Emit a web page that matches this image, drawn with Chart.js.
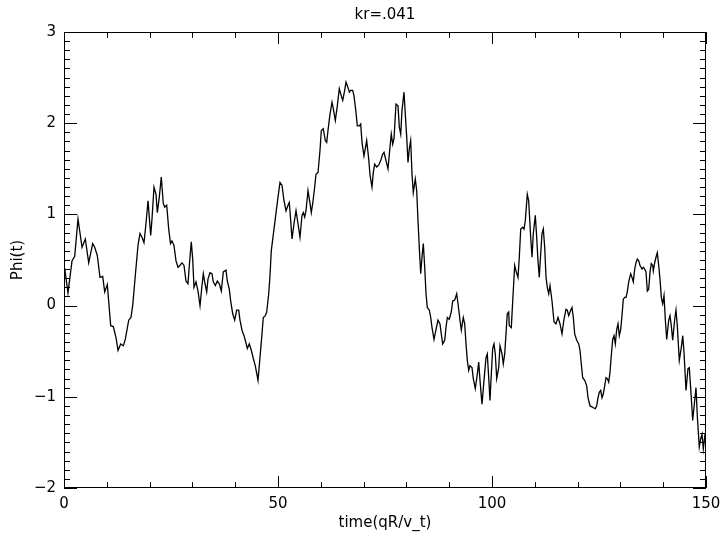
<!DOCTYPE html>
<html lang="en">
<head>
    <meta charset="UTF-8">
    <title>kr=.041</title>
    <script src="https://cdn.jsdelivr.net/npm/chart.js"></script>
    <style>
        body {
            margin: 0;
            background-color: white;
        }
        canvas {
            display: block;
        }
    </style>
</head>
<body>
    <canvas id="phiChart" width="721" height="538"></canvas>
    <script>
        // time samples and potential Phi(t)
        const times = [
            0.16, 0.93, 1.87, 2.50, 3.27, 4.21, 4.98, 5.77, 6.71, 7.17,
            7.78, 8.41, 9.04, 9.51, 10.12, 10.91, 11.52, 12.15, 12.62, 13.25,
            13.86, 14.32, 15.12, 15.65, 16.05, 16.66, 17.29, 17.76, 18.22, 18.69,
            19.16, 19.63, 20.26, 20.56, 21.03, 21.50, 21.80, 22.27, 22.73, 23.20,
            23.53, 24.00, 24.46, 24.88, 25.23, 25.70, 26.17, 26.64, 27.10, 27.57,
            28.04, 28.50, 28.97, 29.28, 29.74, 30.07, 30.37, 30.84, 31.31, 31.78,
            32.24, 32.55, 32.87, 33.34, 33.64, 34.11, 34.58, 34.88, 35.35, 35.82,
            36.29, 36.75, 37.22, 37.85, 38.15, 38.62, 38.95, 39.42, 39.88, 40.35,
            40.82, 41.12, 41.59, 42.06, 42.36, 42.83, 43.29, 43.76, 44.23, 44.70,
            45.33, 45.79, 46.26, 46.56, 47.03, 47.36, 47.83, 48.13, 48.43, 50.00,
            50.47, 50.93, 51.40, 51.87, 52.34, 52.64, 52.97, 53.27, 53.74, 54.21,
            54.67, 55.14, 55.61, 55.91, 56.24, 56.54, 57.01, 57.48, 57.78, 58.11,
            58.57, 58.88, 59.35, 59.81, 60.12, 60.58, 61.05, 61.38, 61.68, 62.15,
            62.62, 62.92, 63.39, 63.86, 64.32, 64.79, 65.12, 65.58, 65.89, 66.36,
            66.66, 66.99, 67.45, 67.76, 68.22, 68.53, 69.00, 69.32, 69.63, 70.09,
            70.40, 70.72, 71.19, 71.50, 71.96, 72.27, 72.59, 73.06, 73.53, 73.99,
            74.46, 74.77, 75.23, 75.70, 76.17, 76.47, 76.80, 77.10, 77.57, 78.04,
            78.34, 78.67, 78.97, 79.44, 79.74, 80.07, 80.37, 80.68, 81.00, 81.31,
            81.61, 82.08, 82.41, 82.71, 83.01, 83.34, 83.64, 83.95, 84.28, 84.58,
            84.88, 85.35, 85.68, 85.98, 86.45, 86.92, 87.38, 87.85, 88.15, 88.48,
            88.95, 89.25, 89.56, 90.02, 90.49, 90.82, 91.29, 91.75, 92.06, 92.52,
            92.83, 93.29, 93.62, 93.93, 94.23, 94.56, 94.86, 95.33, 95.63, 96.10,
            96.57, 96.89, 97.20, 97.66, 98.13, 98.60, 98.90, 99.23, 99.53, 99.84,
            100.16, 100.47, 100.77, 101.10, 101.57, 101.87, 102.34, 102.64, 102.97, 103.27,
            103.57, 103.90, 104.04, 104.51, 104.84, 105.30, 105.61, 106.07, 106.38, 106.71,
            107.17, 107.48, 107.78, 108.25, 108.57, 109.04, 109.35, 109.65, 110.12, 110.44,
            110.75, 111.05, 111.38, 111.68, 111.99, 112.31, 112.62, 112.92, 113.25, 113.55,
            114.02, 114.49, 114.95, 115.42, 115.89, 116.36, 116.82, 117.29, 117.59, 117.92,
            118.39, 118.69, 119.00, 119.32, 119.79, 120.26, 120.56, 120.86, 121.19, 121.66,
            122.13, 122.43, 122.90, 123.36, 123.67, 124.14, 124.46, 124.77, 125.07, 125.40,
            125.70, 126.00, 126.33, 126.64, 126.94, 127.27, 127.57, 127.87, 128.20, 128.50,
            128.81, 129.14, 129.44, 129.74, 130.07, 130.37, 130.68, 131.00, 131.31, 131.61,
            131.94, 132.41, 132.71, 133.01, 133.34, 133.64, 133.95, 134.28, 134.58, 135.05,
            135.35, 135.68, 135.98, 136.29, 136.61, 136.92, 137.22, 137.55, 137.69, 138.01,
            138.32, 138.62, 138.95, 139.25, 139.56, 139.88, 140.19, 140.49, 140.82, 141.29,
            141.59, 141.89, 142.22, 142.69, 142.99, 143.29, 143.76, 144.23, 144.56, 144.86,
            145.33, 145.79, 146.10, 146.43, 146.89, 147.36, 147.66, 147.97, 148.43, 148.76,
            149.07, 149.37, 149.77
        ];
        const phi = [
            0.41, 0.14, 0.49, 0.54, 0.95, 0.64, 0.73, 0.47, 0.68, 0.64,
            0.55, 0.31, 0.32, 0.15, 0.23, -0.22, -0.23, -0.35, -0.49, -0.42,
            -0.44, -0.37, -0.16, -0.13, 0.00, 0.33, 0.66, 0.79, 0.75, 0.69,
            0.90, 1.15, 0.77, 0.95, 1.30, 1.22, 1.02, 1.19, 1.41, 1.12,
            1.08, 1.10, 0.84, 0.68, 0.71, 0.66, 0.49, 0.42, 0.44, 0.47,
            0.44, 0.27, 0.24, 0.44, 0.70, 0.51, 0.20, 0.26, 0.16, 0.00,
            0.22, 0.35, 0.26, 0.15, 0.29, 0.36, 0.35, 0.26, 0.22, 0.27,
            0.24, 0.16, 0.37, 0.39, 0.27, 0.18, 0.05, -0.09, -0.16, -0.05,
            -0.05, -0.16, -0.27, -0.33, -0.38, -0.47, -0.42, -0.49, -0.58, -0.66,
            -0.82, -0.57, -0.31, -0.13, -0.11, -0.07, 0.13, 0.33, 0.60, 1.19,
            1.35, 1.32, 1.15, 1.04, 1.10, 1.13, 0.93, 0.73, 0.90, 1.04,
            0.90, 0.75, 0.99, 1.02, 0.97, 1.04, 1.26, 1.12, 1.02, 1.12,
            1.30, 1.44, 1.46, 1.70, 1.92, 1.94, 1.81, 1.79, 1.92, 2.10,
            2.23, 2.16, 2.03, 2.19, 2.38, 2.30, 2.25, 2.36, 2.45, 2.39,
            2.34, 2.36, 2.36, 2.30, 2.12, 1.97, 1.97, 1.99, 1.79, 1.64,
            1.72, 1.81, 1.61, 1.43, 1.30, 1.46, 1.55, 1.52, 1.54, 1.59,
            1.66, 1.68, 1.59, 1.50, 1.74, 1.88, 1.77, 1.83, 2.21, 2.19,
            1.96, 1.88, 2.14, 2.34, 2.10, 1.85, 1.57, 1.72, 1.81, 1.44,
            1.24, 1.39, 1.26, 0.93, 0.64, 0.35, 0.53, 0.68, 0.42, 0.13,
            -0.02, -0.05, -0.13, -0.24, -0.37, -0.26, -0.16, -0.20, -0.31, -0.42,
            -0.38, -0.24, -0.13, -0.15, -0.07, 0.05, 0.06, 0.13, 0.02, -0.16,
            -0.27, -0.13, -0.20, -0.42, -0.60, -0.71, -0.66, -0.68, -0.80, -0.91,
            -0.75, -0.62, -0.82, -1.08, -0.82, -0.57, -0.53, -0.79, -1.04, -0.75,
            -0.47, -0.42, -0.53, -0.80, -0.68, -0.44, -0.53, -0.64, -0.53, -0.31,
            -0.09, -0.07, -0.22, -0.24, 0.05, 0.44, 0.38, 0.31, 0.53, 0.84,
            0.86, 0.84, 0.93, 1.22, 1.15, 0.75, 0.53, 0.79, 0.99, 0.75,
            0.49, 0.31, 0.57, 0.79, 0.84, 0.64, 0.31, 0.20, 0.13, 0.22,
            0.05, -0.18, -0.20, -0.13, -0.20, -0.31, -0.15, -0.04, -0.05, -0.11,
            -0.05, -0.02, -0.13, -0.31, -0.38, -0.42, -0.49, -0.64, -0.79, -0.82,
            -0.88, -1.01, -1.10, -1.11, -1.12, -1.13, -1.10, -1.01, -0.95, -0.93,
            -1.01, -0.97, -0.88, -0.79, -0.80, -0.84, -0.73, -0.55, -0.37, -0.33,
            -0.42, -0.26, -0.20, -0.33, -0.26, -0.11, 0.07, 0.09, 0.09, 0.15,
            0.26, 0.35, 0.31, 0.26, 0.40, 0.47, 0.51, 0.49, 0.44, 0.40,
            0.42, 0.40, 0.37, 0.16, 0.18, 0.37, 0.46, 0.44, 0.38, 0.47,
            0.53, 0.58, 0.44, 0.29, 0.09, 0.02, 0.11, -0.15, -0.37, -0.16,
            -0.11, -0.22, -0.38, -0.15, -0.05, -0.22, -0.60, -0.46, -0.33, -0.51,
            -0.93, -0.69, -0.68, -0.91, -1.26, -1.04, -0.90, -1.21, -1.55, -1.46,
            -1.41, -1.57, -1.41
        ];

        // axis ranges and tick layout
        const xTicks = [0, 50, 100, 150];
        const yTicks = [-2, -1, 0, 1, 2, 3];
        const xMinorStep = 10;
        const yMinorStep = 0.1;

        const fontFamily = '"DejaVu Sans", sans-serif';

        // closed frame with inward ticks on all four sides
        const frameTicks = {
            id: 'frameTicks',
            afterDraw(chart) {
                const { ctx, chartArea: a, scales: { x, y } } = chart;
                ctx.save();
                ctx.strokeStyle = '#000';
                ctx.lineWidth = 1;
                ctx.strokeRect(a.left + 0.5, a.top + 0.5, a.right - a.left - 1, a.bottom - a.top - 1);
                ctx.beginPath();
                const x0 = xTicks[0], x1 = xTicks[xTicks.length - 1];
                for (let i = 0; x0 + i * xMinorStep <= x1 + 1e-9; i++) {
                    const v = x0 + i * xMinorStep;
                    const len = xTicks.includes(v) ? 12 : 6;
                    const px = Math.round(x.getPixelForValue(v)) + 0.5;
                    ctx.moveTo(px, a.bottom);
                    ctx.lineTo(px, a.bottom - len);
                    ctx.moveTo(px, a.top);
                    ctx.lineTo(px, a.top + len);
                }
                const y0 = yTicks[0], y1 = yTicks[yTicks.length - 1];
                const n = Math.round((y1 - y0) / yMinorStep);
                for (let i = 0; i <= n; i++) {
                    const len = i % 10 === 0 ? 13 : 6;
                    const py = Math.round(y.getPixelForValue(y0 + i * yMinorStep)) + 0.5;
                    ctx.moveTo(a.left, py);
                    ctx.lineTo(a.left + len, py);
                    ctx.moveTo(a.right, py);
                    ctx.lineTo(a.right - len, py);
                }
                ctx.stroke();
                ctx.restore();
            }
        };

        const ctx = document.getElementById('phiChart').getContext('2d');
        new Chart(ctx, {
            type: 'line',
            data: {
                datasets: [{
                    data: times.map((t, i) => ({ x: t, y: phi[i] })),
                    borderColor: '#000',
                    borderWidth: 1.3,
                    pointRadius: 0,
                    tension: 0,
                    fill: false
                }]
            },
            options: {
                responsive: false,
                animation: false,
                devicePixelRatio: 1,
                layout: { padding: { left: 0, right: 15, top: 0, bottom: 0 } },
                plugins: {
                    legend: { display: false },
                    tooltip: { enabled: false },
                    title: {
                        display: true,
                        text: 'kr=.041',
                        fullSize: false,
                        color: '#000',
                        font: { family: fontFamily, size: 15, weight: 'normal' },
                        padding: { top: 6, bottom: 8 }
                    }
                },
                scales: {
                    x: {
                        type: 'linear',
                        min: xTicks[0],
                        max: xTicks[xTicks.length - 1],
                        afterBuildTicks: s => { s.ticks = xTicks.map(v => ({ value: v })); },
                        afterFit: s => { s.height = 50; s.paddingLeft = 0; s.paddingRight = 0; },
                        grid: { display: false, drawTicks: false },
                        border: { display: false },
                        ticks: {
                            color: '#000',
                            padding: 7,
                            maxRotation: 0,
                            font: { family: fontFamily, size: 15 }
                        },
                        title: {
                            display: true,
                            text: 'time(qR/v_t)',
                            color: '#000',
                            font: { family: fontFamily, size: 15 },
                            padding: { top: 0, bottom: 6 }
                        }
                    },
                    y: {
                        min: yTicks[0],
                        max: yTicks[yTicks.length - 1],
                        afterBuildTicks: s => { s.ticks = yTicks.map(v => ({ value: v })); },
                        afterFit: s => { s.width = 64; s.paddingTop = 0; s.paddingBottom = 0; },
                        grid: { display: false, drawTicks: false },
                        border: { display: false },
                        ticks: {
                            color: '#000',
                            padding: 8,
                            font: { family: fontFamily, size: 15 },
                            callback: v => (v < 0 ? '\u2212' + Math.abs(v) : String(v))
                        },
                        title: {
                            display: true,
                            text: 'Phi(t)',
                            color: '#000',
                            font: { family: fontFamily, size: 15 },
                            padding: { top: 9, bottom: 0 }
                        }
                    }
                }
            },
            plugins: [frameTicks]
        });
    </script>
</body>
</html>
